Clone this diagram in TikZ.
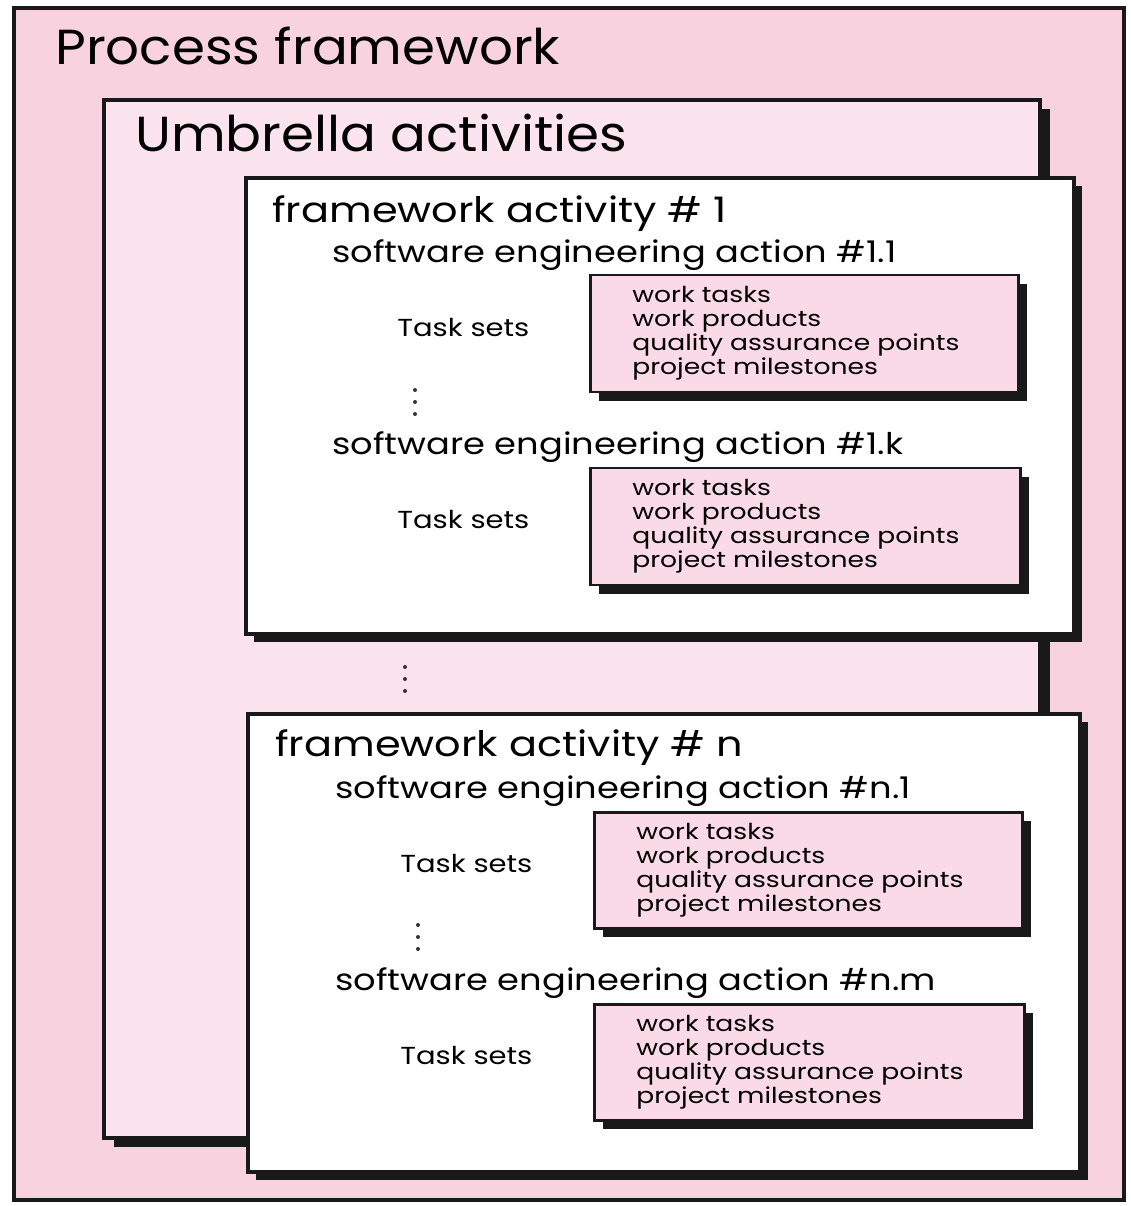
\documentclass[tikz,border=0pt]{standalone}
\usepackage{fontspec}
\setmainfont{Poppins}
\newfontfamily\hdfont[FakeStretch=1.08]{Poppins}
\newfontfamily\fafont[FakeStretch=1.18]{Poppins}
\newfontfamily\lstfont[FakeStretch=1.21]{Poppins}
\usetikzlibrary{positioning,fit,shadows}
\definecolor{procpink}{RGB}{249,210,224}
\definecolor{umbpink}{RGB}{252,228,238}
\definecolor{setpink}{RGB}{250,218,230}
\tikzstyle{proc}=[draw=black!90, line width=2pt, fill=procpink, inner sep=0]
\tikzstyle{umb}=[draw=black!90, line width=2pt, fill=umbpink, inner sep=0,
		drop shadow={shadow xshift=0.2cm, shadow yshift=-0.18cm, fill=black!90, opacity=1}]
\tikzstyle{act}=[draw=black!90, line width=2pt, fill=white, inner sep=0,
		drop shadow={shadow xshift=0.16cm, shadow yshift=-0.16cm, fill=black!90, opacity=1}]
\tikzstyle{tset}=[draw=black!90, line width=1.7pt, fill=setpink, inner sep=0,
		drop shadow={shadow xshift=0.18cm, shadow yshift=-0.18cm, fill=black!90, opacity=1}]
\tikzstyle{hd}=[anchor=base west, inner sep=0, font=\hdfont\fontsize{28}{30}\selectfont]
\tikzstyle{fah}=[anchor=base west, inner sep=0, font=\fafont\fontsize{20}{22}\selectfont]
\tikzstyle{sea}=[anchor=base west, inner sep=0, font=\fafont\fontsize{17}{19}\selectfont]
\tikzstyle{tsk}=[anchor=base west, inner sep=0, font=\fafont\fontsize{14}{16}\selectfont]
\tikzstyle{lst}=[anchor=north west, inner sep=0, align=left,
		font=\lstfont\fontsize{12.5}{13.6}\selectfont]
\tikzstyle{dot}=[fill=black!80]

\begin{document}
\begin{tikzpicture}[x=0.02cm, y=-0.02cm]
	\useasboundingbox (0,0) rectangle (1130,1206);
	% nested boxes
	\node[proc, fit={(14,8) (1124,1200)}] (pf) {};
	\node[umb, fit={(104,100) (1040,1138)}] (ua) {};
	\node[act, fit={(246,178) (1074,634)}] (fa1) {};
	\node[act, fit={(248,714) (1080,1172)}] (fan) {};
	\node[tset, fit={(590,275) (1018,392)}] (ts11) {};
	\node[tset, fit={(590,468) (1020,585)}] (ts1k) {};
	\node[tset, fit={(594,812) (1022,928)}] (tsn1) {};
	\node[tset, fit={(594,1004) (1024,1120)}] (tsnm) {};
	% titles
	\node[hd] (pft) at (55,65) {Process framework};
	\node[hd] (uat) at (135,152) {Umbrella activities};
	\node[fah] (fa1t) at (272,222) {framework activity \# 1};
	\node[fah] (fant) at (275,756) {framework activity \# n};
	% framework activity 1
	\node[sea] (sea11) at (332,262) {software engineering action \#1.1};
	\node[tsk] (tk11) at (397,336) {Task sets};
	\node[lst] (l11) at (632,286) {work tasks\\work products\\quality assurance points\\project milestones};
	\node[sea] (sea1k) at (332,454) {software engineering action \#1.k};
	\node[tsk] (tk1k) at (397,528) {Task sets};
	\node[lst] (l1k) at (632,479) {work tasks\\work products\\quality assurance points\\project milestones};
	% framework activity n
	\node[sea] (sean1) at (335,798) {software engineering action \#n.1};
	\node[tsk] (tkn1) at (400,872) {Task sets};
	\node[lst] (ln1) at (636,823) {work tasks\\work products\\quality assurance points\\project milestones};
	\node[sea] (seanm) at (335,990) {software engineering action \#n.m};
	\node[tsk] (tknm) at (400,1064) {Task sets};
	\node[lst] (lnm) at (636,1015) {work tasks\\work products\\quality assurance points\\project milestones};
	% vertical dots
	\foreach \x/\y in {415/390, 405/667, 418/925}
		\foreach \k in {0,1,2}
			\fill[dot] (\x,\y+12*\k) circle (2);
\end{tikzpicture}
\end{document}
